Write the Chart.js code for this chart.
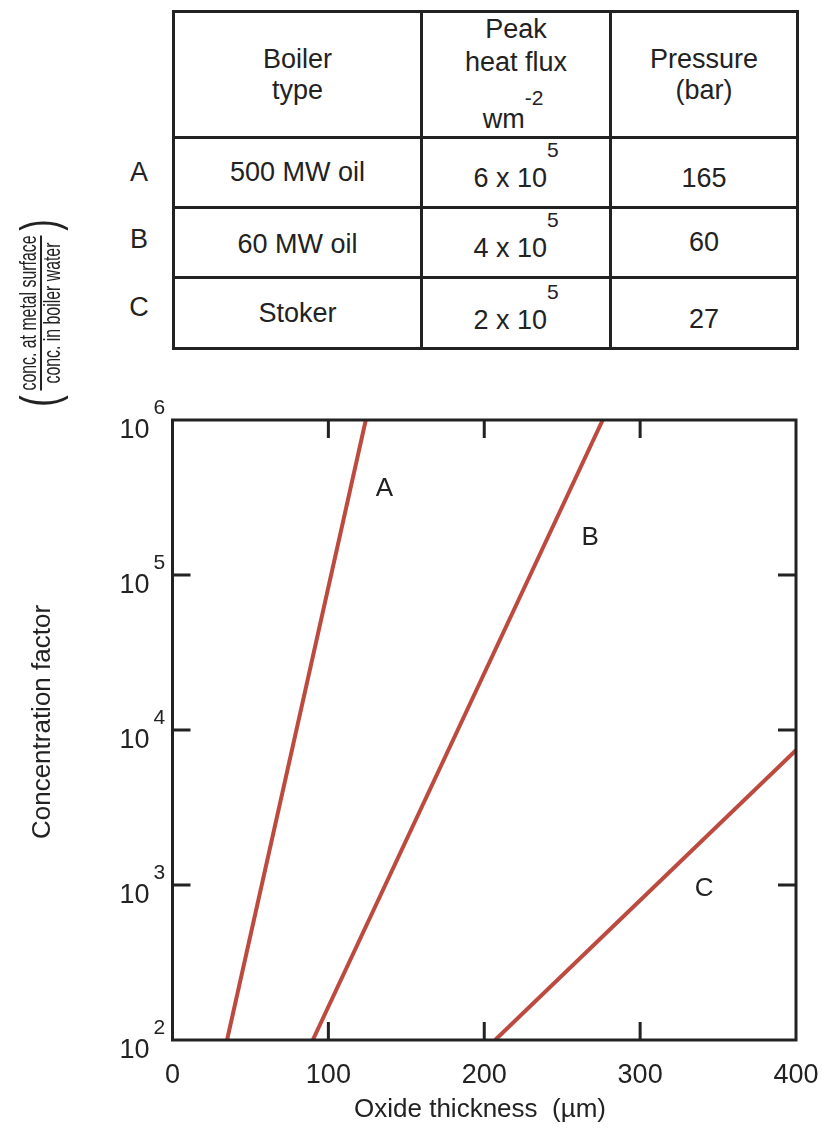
<!DOCTYPE html>
<html>
<head>
<meta charset="utf-8">
<script src="https://cdn.jsdelivr.net/npm/chart.js@4.4.0/dist/chart.umd.min.js"></script>
<style>
    body { margin: 0; background: #fff; font-family: 'Liberation Sans', Arial, sans-serif; color: #222; }
    #chart-box { position: absolute; left: 0; top: 0; width: 822px; height: 1129px; }
    #boiler-table { position: absolute; left: 172px; top: 10px; border-collapse: collapse; font-size: 27px; }
    #boiler-table td { border: 3px solid #222; text-align: center; padding: 0; vertical-align: middle; }
    #boiler-table .hdr { line-height: 31px; }
    #boiler-table .flux-hdr { vertical-align: top; padding-top: 0; }
    .sup { position: relative; font-size: 21px; }
    .row-letter { position: absolute; width: 30px; text-align: center; font-size: 27px; line-height: 27px; }
</style>
</head>
<body>
<table id="boiler-table">
    <colgroup><col style="width:248px"><col style="width:189px"><col style="width:187px"></colgroup>
    <tr style="height:122px">
        <td class="hdr">Boiler<br>type</td>
        <td class="flux-hdr">
            <div style="line-height:33px">Peak<br>heat flux</div>
            <div style="margin-top:25px; line-height:30px; padding-right:6px">wm<span class="sup" style="top:-23px">-2</span></div>
        </td>
        <td class="hdr">Pressure<br>(bar)</td>
    </tr>
    <tr style="height:70px">
        <td style="padding-top:0">500 MW oil</td>
        <td style="padding-top:12px">6 x 10<span class="sup" style="top:-30px">5</span></td>
        <td style="padding-top:12px">165</td>
    </tr>
    <tr style="height:70px">
        <td style="padding-top:4px">60 MW oil</td>
        <td style="padding-top:12px">4 x 10<span class="sup" style="top:-30px">5</span></td>
        <td style="padding-top:0">60</td>
    </tr>
    <tr style="height:71px">
        <td style="padding-top:0">Stoker</td>
        <td style="padding-top:14px">2 x 10<span class="sup" style="top:-30px">5</span></td>
        <td style="padding-top:12px">27</td>
    </tr>
</table>
<div class="row-letter" style="left:124px; top:159px">A</div>
<div class="row-letter" style="left:124px; top:226px">B</div>
<div class="row-letter" style="left:124px; top:294px">C</div>

<div id="chart-box"><canvas id="oxide-chart" width="822" height="1129"></canvas></div>

<script>
// Data
const seriesNames = ['A', 'B', 'C'];
const thicknessA = [35, 124];
const factorA = [100, 1e6];
const thicknessB = [90, 276];
const factorB = [100, 1e6];
const thicknessC = [207, 400];
const factorC = [100, 7400];

// Where each curve letter sits (data coords)
const letterX = [136, 268, 341];
const letterY = [3.6e5, 1.75e5, 950];

// Axis ticks
const xTickValues = [0, 100, 200, 300, 400];
const yTickValues = [1e2, 1e3, 1e4, 1e5, 1e6];
const yTickExponents = ['2', '3', '4', '5', '6'];

const lineColor = '#bd4a3f';
const inkColor = '#222';
const fontFamily = "'Liberation Sans', Arial, sans-serif";

function toPoints(xs, ys) {
    return xs.map((x, i) => ({ x: x, y: ys[i] }));
}

const allSeries = [
    toPoints(thicknessA, factorA),
    toPoints(thicknessB, factorB),
    toPoints(thicknessC, factorC)
];

// Frame, inward tick marks, tick labels, axis titles and curve letters
const decorPlugin = {
    id: 'decor',
    afterDraw(chart) {
        const ctx = chart.ctx;
        const area = chart.chartArea;
        const xScale = chart.scales.x;
        const yScale = chart.scales.y;
        const tickLen = 18;

        ctx.save();
        ctx.strokeStyle = inkColor;
        ctx.lineWidth = 3;
        ctx.strokeRect(area.left, area.top, area.right - area.left, area.bottom - area.top);

        // inward ticks top and bottom
        xTickValues.slice(1, -1).forEach(v => {
            const px = xScale.getPixelForValue(v);
            ctx.beginPath();
            ctx.moveTo(px, area.bottom);
            ctx.lineTo(px, area.bottom - tickLen);
            ctx.moveTo(px, area.top);
            ctx.lineTo(px, area.top + tickLen);
            ctx.stroke();
        });

        // inward ticks left and right
        yTickValues.slice(1, -1).forEach(v => {
            const py = yScale.getPixelForValue(v);
            ctx.beginPath();
            ctx.moveTo(area.left, py);
            ctx.lineTo(area.left + tickLen, py);
            ctx.moveTo(area.right, py);
            ctx.lineTo(area.right - tickLen, py);
            ctx.stroke();
        });

        ctx.fillStyle = inkColor;
        ctx.textBaseline = 'middle';

        // x tick labels
        ctx.font = '27px ' + fontFamily;
        ctx.textAlign = 'center';
        xTickValues.forEach(v => {
            ctx.fillText(String(v), xScale.getPixelForValue(v), area.bottom + 36);
        });

        // 10^n labels
        yTickValues.forEach((v, i) => {
            const py = yScale.getPixelForValue(v);
            ctx.font = '27px ' + fontFamily;
            ctx.textAlign = 'right';
            ctx.fillText('10', area.left - 23, py + 11);
            ctx.font = '21px ' + fontFamily;
            ctx.textAlign = 'left';
            ctx.fillText(yTickExponents[i], area.left - 19, py - 12);
        });

        // x title
        ctx.font = '26px ' + fontFamily;
        ctx.textAlign = 'center';
        ctx.fillText('Oxide thickness  (\u00b5m)', 480, 1110);

        // y titles (rotated)
        ctx.save();
        ctx.translate(43, 722);
        ctx.rotate(-Math.PI / 2);
        ctx.font = '26px ' + fontFamily;
        ctx.fillText('Concentration factor', 0, 0);
        ctx.restore();

        ctx.save();
        ctx.translate(41, 313);
        ctx.rotate(-Math.PI / 2);
        ctx.scale(0.66, 1);
        ctx.font = '24px ' + fontFamily;
        const top = 'conc. at metal surface';
        const bottom = 'conc. in boiler water';
        ctx.fillText(top, 0, -12);
        ctx.fillText(bottom, 0, 12);
        const barW = ctx.measureText(top).width;
        ctx.lineWidth = 2;
        ctx.beginPath();
        ctx.moveTo(-barW / 2, 0);
        ctx.lineTo(barW / 2, 0);
        ctx.stroke();
        ctx.font = '52px ' + fontFamily;
        ctx.fillText('(', -barW / 2 - 16, 2);
        ctx.fillText(')', barW / 2 + 16, 2);
        ctx.restore();

        // curve letters
        ctx.font = '26px ' + fontFamily;
        ctx.textAlign = 'center';
        seriesNames.forEach((name, i) => {
            ctx.fillText(name, xScale.getPixelForValue(letterX[i]), yScale.getPixelForValue(letterY[i]));
        });
        ctx.restore();
    }
};

const chart = new Chart(document.getElementById('oxide-chart'), {
    type: 'scatter',
    data: {
        datasets: allSeries.map((pts, i) => ({
            label: seriesNames[i],
            data: pts,
            showLine: true,
            borderColor: lineColor,
            borderWidth: 4,
            pointRadius: 0,
            fill: false
        }))
    },
    options: {
        responsive: false,
        animation: false,
        layout: {
            padding: { top: 420, right: 26, left: 0, bottom: 0 }
        },
        plugins: {
            legend: { display: false },
            tooltip: { enabled: false }
        },
        scales: {
            x: {
                type: 'linear',
                position: 'bottom',
                min: 0,
                max: 400,
                afterFit: (scale) => { scale.height = 89; },
                grid: { display: false, drawTicks: false },
                border: { display: false },
                ticks: { display: false }
            },
            y: {
                type: 'logarithmic',
                min: 100,
                max: 1e6,
                afterFit: (scale) => { scale.width = 172.5; },
                grid: { display: false, drawTicks: false },
                border: { display: false },
                ticks: { display: false }
            }
        }
    },
    plugins: [decorPlugin]
});
</script>
</body>
</html>
